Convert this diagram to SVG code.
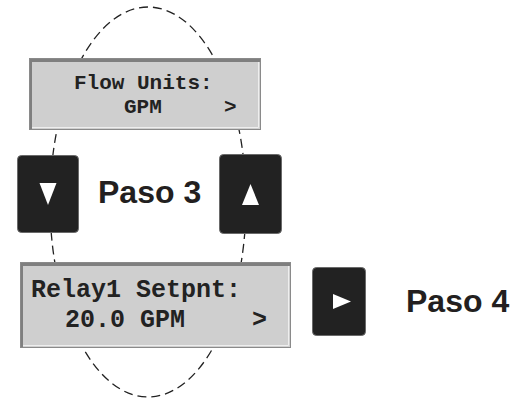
<svg xmlns="http://www.w3.org/2000/svg" width="521" height="399" viewBox="0 0 521 399">
<style>
.lcd{fill:#cfcfcf;stroke:#8a8a8a;stroke-width:1}
.bevdark{fill:#7f7f7f}
.bevlight{fill:none;stroke:#eeeeee;stroke-width:1}
.mono{font-family:"Liberation Mono","Courier New",monospace;font-weight:bold;fill:#222}
.btn{fill:#222;stroke:#6a6a6a;stroke-width:1}
.tri{fill:#fff}
.lbl{font-family:"Liberation Sans",Arial,sans-serif;font-weight:bold;font-size:32px;fill:#231f20}
.dash{fill:none;stroke:#222;stroke-width:1.3;stroke-dasharray:9 5}
</style>
<rect width="521" height="399" fill="#fff"/>
<g id="connectors">
<ellipse class="dash" cx="148" cy="202" rx="98" ry="195"/>
</g>
<g id="lcd-flow-units">
<rect class="lcd" x="29.5" y="58.5" width="231" height="71"/>
<rect class="bevdark" x="30" y="59" width="230" height="3"/>
<rect class="bevdark" x="30" y="59" width="2" height="70"/>
<polyline class="bevlight" points="32,127.5 258.5,127.5 258.5,62"/>
<text class="mono" x="74" y="89" font-size="21">Flow Units:</text>
<text class="mono" x="124" y="113" font-size="21">GPM</text>
<text class="mono" x="224" y="113" font-size="21">&gt;</text>
</g>
<g id="lcd-relay-setpoint">
<rect class="lcd" x="20.5" y="262.5" width="270" height="85"/>
<rect class="bevdark" x="21" y="263" width="269" height="3"/>
<rect class="bevdark" x="21" y="263" width="2" height="84"/>
<polyline class="bevlight" points="23,345.5 288.5,345.5 288.5,266"/>
<text class="mono" x="31" y="297" font-size="25">Relay1 Setpnt:</text>
<text class="mono" x="65" y="327" font-size="25">20.0 GPM</text>
<text class="mono" x="252" y="327" font-size="25">&gt;</text>
</g>
<g id="btn-down">
<rect class="btn" x="17.5" y="155.5" width="61" height="77" rx="4"/>
<polygon class="tri" points="39.5,183 56.5,183 48,205"/>
</g>
<g id="btn-up">
<rect class="btn" x="219.5" y="154.5" width="62" height="79" rx="4"/>
<polygon class="tri" points="242,205 259,205 250.5,184"/>
</g>
<g id="btn-right">
<rect class="btn" x="312.5" y="267.5" width="53" height="68" rx="4"/>
<polygon class="tri" points="333,294 351,301.5 333,309"/>
</g>
<g id="label-paso3">
<text class="lbl" x="98" y="203">Paso 3</text>
</g>
<g id="label-paso4">
<text class="lbl" x="406" y="312">Paso 4</text>
</g>
</svg>
